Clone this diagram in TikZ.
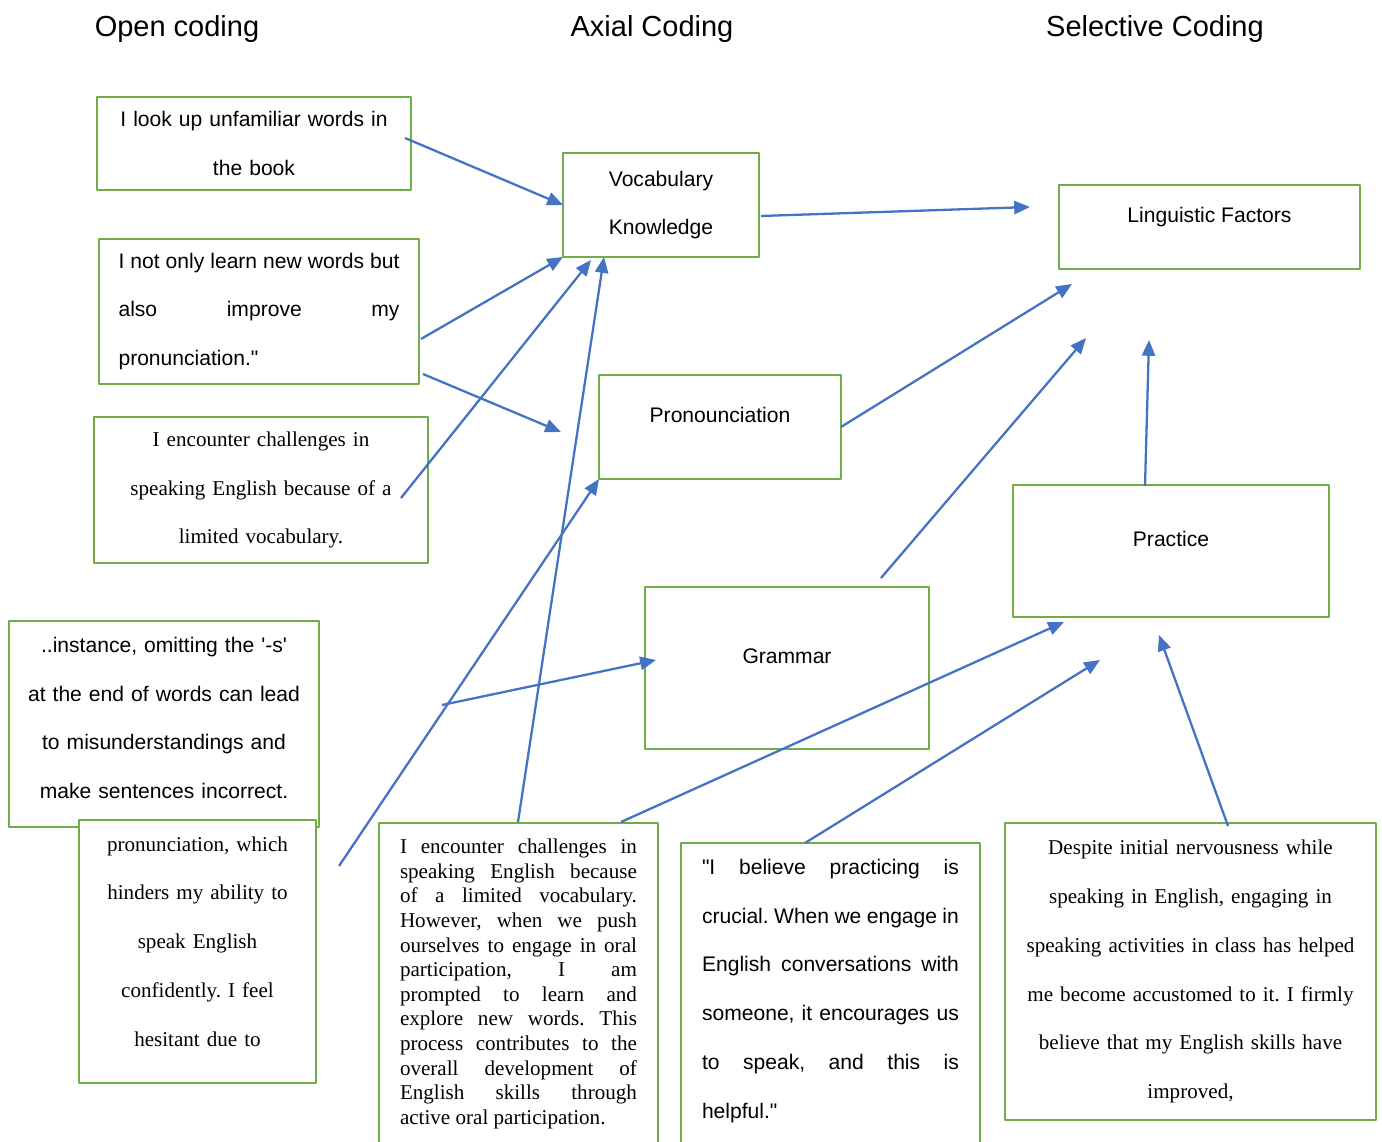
\documentclass[tikz,border=0pt]{standalone}
\usepackage{fontspec}
\setmainfont{Liberation Serif}
\setsansfont{Liberation Sans}
\usetikzlibrary{arrows.meta}
\definecolor{boxgreen}{HTML}{70AD47}
\definecolor{arrowblue}{HTML}{4472C4}
\frenchspacing
\tikzset{
  codebox/.style={draw=boxgreen,line width=1.6pt,fill=white,inner sep=0pt,outer sep=0pt,
    font=\sffamily\fontsize{12}{27.8}\selectfont,align=center},
  quotebox/.style={codebox,font=\rmfamily\fontsize{12}{27.8}\selectfont},
  longbox/.style={codebox,anchor=north west,inner xsep=0.42cm,inner ysep=0.32cm,align=justify,text depth=7cm},
  heading/.style={font=\sffamily\fontsize{16.5}{20}\selectfont},
  arr/.style={->,draw=arrowblue,line width=1.3pt},
}
\begin{document}
\begin{tikzpicture}[x=0.02cm,y=-0.02cm,>={Triangle[length=9pt,width=7.5pt]},line join=round]
	\clip (0,0) rectangle (1382,1142);
	% column titles
	\node[heading] (open) at (177,29) {Open coding};
	\node[heading] (axial) at (652,29) {Axial Coding};
	\node[heading] (selective) at (1155,29) {Selective Coding};
	% open coding
	\node[codebox,minimum width=6.28cm,minimum height=1.86cm,text width=5.8cm] (look) at (254,143.5) {I look up unfamiliar words in\\the book};
	\node[codebox,minimum width=6.4cm,minimum height=2.9cm,text width=5.62cm,align=justify] (notonly) at (259,311.5) {I not only learn new words but\linebreak also improve my\linebreak pronunciation.\textquotedbl};
	\node[quotebox,minimum width=6.68cm,minimum height=2.92cm,text width=6.2cm] (limited) at (261,490) {I encounter challenges in\\speaking English because of a\\limited vocabulary.};
	\node[codebox,minimum width=6.2cm,minimum height=4.12cm,text width=5.9cm] (omit) at (164,724) {..instance, omitting the \textquotesingle-s\textquotesingle\\at the end of words can lead\\to misunderstandings and\\make sentences incorrect.\par\kern6.8pt};
	\node[quotebox,minimum width=4.74cm,minimum height=5.26cm,text width=4.4cm] (hinder) at (197.5,951.5) {pronunciation, which\\hinders my ability to\\speak English\\confidently. I feel\\hesitant due to\par\kern11.3pt};
	\node[longbox,font=\rmfamily\fontsize{12}{14}\selectfont,text width=4.74cm] (explore) at (379,823) {I encounter challenges in\linebreak speaking English because\linebreak of a limited vocabulary.\linebreak However, when we push\linebreak ourselves to engage in oral\linebreak participation, I am\linebreak prompted to learn and\linebreak explore new words. This\linebreak process contributes to the\linebreak overall development of\linebreak English skills through\linebreak active oral participation.};
	\node[longbox,text width=5.14cm] (believe) at (681,843) {\textquotedbl I believe practicing is\linebreak crucial. When we engage in\linebreak English conversations with\linebreak someone, it encourages us\linebreak to speak, and this is\linebreak helpful.\textquotedbl};
	\node[quotebox,minimum width=7.42cm,minimum height=5.94cm,text width=6.9cm] (despite) at (1190.5,971.5) {Despite initial nervousness while\\speaking in English, engaging in\\speaking activities in class has helped\\me become accustomed to it. I firmly\\believe that my English skills have\\improved,};
	% axial coding
	\node[codebox,minimum width=3.92cm,minimum height=2.08cm,text width=3.5cm] (vocab) at (661,205) {Vocabulary\\Knowledge};
	\node[codebox,minimum width=4.84cm,minimum height=2.08cm,text depth=14pt] (pronounce) at (720,427) {Pronounciation};
	\node[codebox,minimum width=5.68cm,minimum height=3.24cm,text depth=14pt] (grammar) at (787,668) {Grammar};
	% selective coding
	\node[codebox,minimum width=6.02cm,minimum height=1.68cm,text depth=14pt] (linguistic) at (1209.5,227) {Linguistic Factors};
	\node[codebox,minimum width=6.32cm,minimum height=2.64cm,text depth=14pt] (practice) at (1171,551) {Practice};
	% loose arrow ends
	\coordinate (lookout) at (405,138);
	\coordinate (notonlyA) at (421,339);
	\coordinate (notonlyB) at (423,374);
	\coordinate (pronin) at (561,432);
	\coordinate (limitedout) at (401,498);
	\coordinate (vocabA) at (591,260);
	\coordinate (exploreA) at (518,822);
	\coordinate (vocabB) at (604,257);
	\coordinate (hinderout) at (339,866);
	\coordinate (omitout) at (442,705);
	\coordinate (grammarin) at (656,660);
	\coordinate (exploreB) at (621,822);
	\coordinate (practiceA) at (1064,622);
	\coordinate (believeout) at (805,843);
	\coordinate (practiceB) at (1100,660);
	\coordinate (despiteout) at (1228,826);
	\coordinate (practiceC) at (1159,635);
	\coordinate (vocabout) at (761,216);
	\coordinate (lingA) at (1030,207);
	\coordinate (lingB) at (1072,284);
	\coordinate (grammarout) at (881,578);
	\coordinate (lingC) at (1086,338);
	\coordinate (practiceout) at (1145,486);
	\coordinate (lingD) at (1149,340);
	\foreach \src/\dst in {lookout/vocab.west,notonlyA/vocab.south west,notonlyB/pronin,limitedout/vocabA,
		exploreA/vocabB,hinderout/pronounce.south west,omitout/grammarin,exploreB/practiceA,
		believeout/practiceB,despiteout/practiceC,vocabout/lingA,pronounce.east/lingB,
		grammarout/lingC,practiceout/lingD}
	\draw[arr] (\src) -- (\dst);
\end{tikzpicture}
\end{document}
